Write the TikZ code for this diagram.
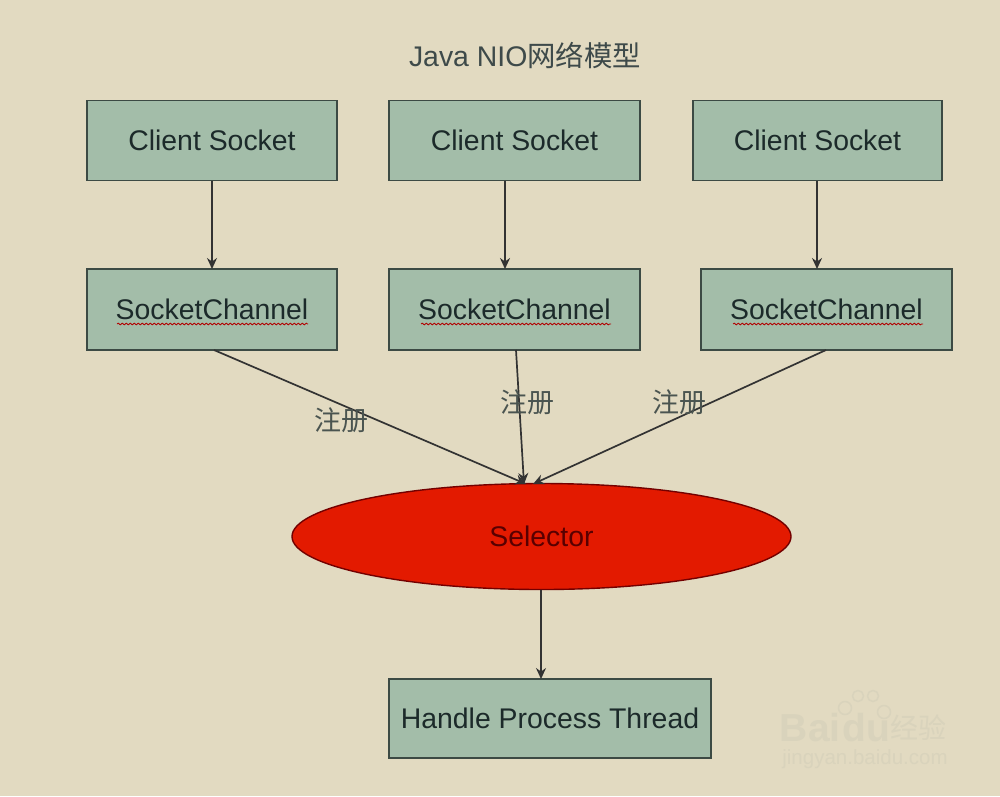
\documentclass[tikz,border=0pt]{standalone}
\usepackage{fontspec}
\setmainfont{Liberation Sans}
\newfontfamily\cjk{Noto Sans CJK SC}
\usetikzlibrary{arrows.meta,shapes.geometric,decorations.pathmorphing}
\definecolor{bgc}{HTML}{E2DAC1}
\definecolor{boxc}{HTML}{A3BDA9}
\definecolor{edgec}{HTML}{3C4A44}
\definecolor{txtc}{HTML}{1C2A2A}
\definecolor{redc}{HTML}{E31A00}
\definecolor{wmc}{HTML}{D9D3BC}
\definecolor{lblc}{HTML}{4A5450}
\tikzset{
  x=1pt,y=-1pt,
  boxn/.style={draw=edgec,fill=boxc,line width=1.8pt,inner sep=0pt,text=txtc,font=\fontsize{28.4}{30}\selectfont},
  conn/.style={draw=black!80,line width=1.7pt,-{Stealth[length=11pt,width=10pt]}},
  lbl/.style={text=lblc,inner sep=0pt,font=\cjk\fontsize{27}{30}\selectfont},
  squig/.style={draw=red!70!black,line width=.8pt,decorate,decoration={snake,amplitude=.9pt,segment length=4pt}},
  wm/.style={text=wmc,inner sep=0pt}
}
\begin{document}
\begin{tikzpicture}
\fill[bgc] (0,0) rectangle (1000,796);
\useasboundingbox (0,0) rectangle (1000,796);
% watermark
\node[wm,font=\bfseries\fontsize{39}{40}\selectfont] (wmA) at (835,728) {Bai\hspace{2pt}du};
\node[wm,font=\cjk\fontsize{28}{30}\selectfont] (wmB) at (918,728) {经验};
\node[wm,font=\fontsize{20.5}{22}\selectfont] (wmC) at (865,759) {jingyan.baidu.com};
\draw[wmc,line width=1.5pt] (845,708) circle (6.5) (858,696) circle (5.5) (873,696) circle (5.5) (884,712) circle (6.5);
% title
\node[inner sep=0pt,text=txtc!85,font=\fontsize{28.4}{30}\selectfont] (title) at (525,56) {Java NIO{\cjk 网络模型}};
% boxes
\node[boxn,minimum width=250pt,minimum height=80pt] (c1) at (212,140.5) {Client Socket};
\node[boxn,minimum width=251pt,minimum height=80pt] (c2) at (514.5,140.5) {Client Socket};
\node[boxn,minimum width=249pt,minimum height=80pt] (c3) at (817.5,140.5) {Client Socket};
\node[boxn,minimum width=250pt,minimum height=81pt] (s1) at (212,309.5) {SocketChannel};
\node[boxn,minimum width=251pt,minimum height=81pt] (s2) at (514.5,309.5) {SocketChannel};
\node[boxn,minimum width=251pt,minimum height=81pt] (s3) at (826.5,309.5) {SocketChannel};
\node[boxn,minimum width=322pt,minimum height=79pt] (h) at (550,718.5) {Handle Process Thread};
\node[ellipse,draw=red!45!black,fill=redc,line width=1.4pt,inner sep=0pt,minimum width=499pt,minimum height=106pt,text=red!35!black,font=\fontsize{28.4}{30}\selectfont] (sel) at (541.5,536.5) {Selector};
% spell-check underlines
\draw[squig] (117,324) -- (308,324);
\draw[squig] (421,324) -- (611,324);
\draw[squig] (733,324) -- (923,324);
% connector ends
\coordinate (a1) at (212,180.5);
\coordinate (b1) at (212,269);
\coordinate (a2) at (505,180.5);
\coordinate (b2) at (505,269);
\coordinate (a3) at (817,180.5);
\coordinate (b3) at (817,269);
\coordinate (d1) at (214,350);
\coordinate (d2) at (516,350);
\coordinate (d3) at (826,350);
\coordinate (e1) at (526,484);
\coordinate (e2) at (524,484);
\coordinate (e3) at (533,484);
\coordinate (f) at (541,589.5);
\coordinate (g) at (541,679);
% connectors
\draw[conn] (a1) -- (b1);
\draw[conn] (a2) -- (b2);
\draw[conn] (a3) -- (b3);
\draw[conn] (d1) -- (e1);
\draw[conn] (d2) -- (e2);
\draw[conn] (d3) -- (e3);
\draw[conn] (f) -- (g);
% labels
\node[lbl] (l1) at (341,420) {注册};
\node[lbl] (l2) at (527,402) {注册};
\node[lbl] (l3) at (679,402) {注册};
\end{tikzpicture}
\end{document}
